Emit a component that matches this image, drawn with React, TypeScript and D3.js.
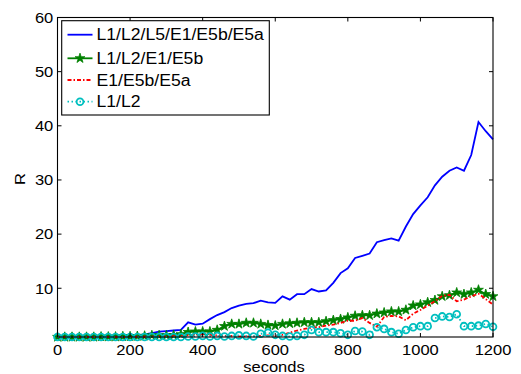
import React from "react";
import * as d3 from "d3";

// time axis (seconds) and the four series
const seconds = [
  0, 20, 40, 60, 80, 100, 120, 140, 160, 180, 200, 220, 240, 260, 280, 300, 320, 340,
  360, 380, 400, 420, 440, 460, 480, 500, 520, 540, 560, 580, 600, 620, 640, 660, 680,
  700, 720, 740, 760, 780, 800, 820, 840, 860, 880, 900, 920, 940, 960, 980, 1000,
  1020, 1040, 1060, 1080, 1100, 1120, 1140, 1160, 1180, 1200,
];

const allSignals = [
  1.0, 1.0, 1.0, 1.0, 1.0, 1.05, 1.05, 1.1, 1.1, 1.15, 1.2, 1.3, 1.5, 1.7, 2.0, 2.1, 2.2, 2.3,
  3.7, 3.3, 3.45, 4.3, 5.05, 5.6, 6.35, 6.8, 7.1, 7.25, 7.7, 7.4, 7.3, 8.5, 7.9, 8.9, 8.9,
  9.85, 9.4, 9.6, 11.0, 12.8, 13.7, 15.6, 16.0, 16.4, 18.5, 18.9, 19.2, 18.8, 21.4, 23.7, 25.3,
  26.8, 29.0, 30.6, 31.7, 32.3, 31.7, 34.6, 40.7, 39.0, 37.5,
];

const fourSignals = [
  1.0, 1.0, 1.0, 1.0, 1.0, 1.0, 1.05, 1.05, 1.05, 1.1, 1.1, 1.15, 1.2, 1.3, 1.3, 1.3, 1.35, 1.5,
  1.9, 2.0, 2.0, 2.0, 2.3, 3.0, 3.4, 3.4, 3.6, 3.6, 3.4, 3.2, 3.1, 3.4, 3.5, 3.6, 3.7,
  3.7, 3.7, 3.9, 4.1, 4.3, 4.6, 4.9, 5.0, 5.0, 5.3, 5.5, 5.7, 5.7, 6.0, 6.8, 7.0,
  7.4, 7.8, 8.5, 8.7, 9.2, 8.9, 9.2, 9.7, 8.9, 8.5,
];

const galileoOnly = [
  1.0, 1.0, 1.0, 1.0, 1.0, 1.0, 1.0, 1.0, 1.0, 1.0, 1.0, 1.05, 1.05, 1.1, 1.1, 1.1, 1.15, 1.2,
  1.3, 1.4, 1.5, 1.4, 1.3, 1.2, 1.2, 1.1, 1.1, 1.1, 1.2, 1.3, 1.2, 1.4, 1.8, 2.2, 2.5,
  2.7, 2.8, 3.1, 3.3, 3.6, 4.0, 4.0, 4.5, 3.6, 2.9, 4.7, 4.9, 4.8, 4.1, 5.3, 6.0,
  6.8, 7.6, 8.6, 8.8, 7.6, 7.9, 8.5, 9.0, 8.0, 7.0,
];

const gpsOnly = [
  1.0, 1.0, 1.0, 1.0, 1.0, 1.0, 1.0, 1.0, 1.0, 1.0, 1.0, 1.0, 1.0, 1.0, 1.0, 1.0, 1.0, 1.0,
  1.1, 1.1, 1.2, 1.1, 1.2, 1.1, 1.2, 1.3, 1.2, 1.1, 1.6, 1.8, 1.4, 1.2, 1.1, 1.2, 1.4,
  2.3, 1.9, 1.9, 1.9, 1.7, 1.4, 2.1, 2.0, 1.4, 2.8, 2.5, 1.9, 1.6, 2.3, 2.8, 3.0,
  3.0, 4.5, 4.8, 4.7, 5.2, 3.0, 3.0, 3.1, 3.4, 2.9,
];

const seriesNames = ["L1/L2/L5/E1/E5b/E5a", "L1/L2/E1/E5b", "E1/E5b/E5a", "L1/L2"];
const xTicks = [0, 200, 400, 600, 800, 1000, 1200];
const yTicks = [10, 20, 30, 40, 50, 60];

const W = 521;
const H = 374;
const plot = { left: 57.5, right: 493, top: 17.5, bottom: 337 };
const font = "'Liberation Sans', Arial, Helvetica, sans-serif";

type Style = {
  color: string;
  dash?: string;
  marker?: "star" | "circle";
};

const styles: Style[] = [
  { color: "#0000ff" },
  { color: "#008000", marker: "star" },
  { color: "#ff0000", dash: "4,2,1.5,2" },
  { color: "#00bfbf", dash: "1.5,2.5", marker: "circle" },
];

const Marker = ({ kind, x, y, color }: { kind?: string; x: number; y: number; color: string }) => {
  if (kind === "star") {
    const p = d3.symbol().type(d3.symbolStar).size(30)();
    return (
      <path d={p || ""} transform={`translate(${x},${y})`} fill={color} stroke={color} strokeWidth={0.8} />
    );
  }
  if (kind === "circle") {
    return <circle cx={x} cy={y} r={3.4} fill="none" stroke={color} strokeWidth={1.8} />;
  }
  return null;
};

const App = () => {
  const x = d3.scaleLinear().domain([0, 1200]).range([plot.left, plot.right]);
  const y = d3.scaleLinear().domain([1, 60]).range([plot.bottom, plot.top]);

  const data = [allSignals, fourSignals, galileoOnly, gpsOnly];

  const line = d3
    .line<number>()
    .x((_, i) => x(seconds[i]))
    .y((d) => y(d));

  const tickLen = 4;
  const legend = { x: 61.7, y: 20.7, w: 207.6, h: 94.3 };
  const rowY = [34.7, 58.3, 80, 101.7];

  return (
    <svg
      width={W}
      height={H}
      style={{ position: "absolute", left: 0, top: 0, background: "#fff" }}
      fontFamily={font}
    >
      <rect x={0} y={0} width={W} height={H} fill="#fff" />

      {/* series */}
      <g>
        {data.map((vals, si) => (
          <g key={si}>
            <path
              d={line(vals) || ""}
              fill="none"
              stroke={styles[si].color}
              strokeWidth={1.8}
              strokeDasharray={styles[si].dash}
            />
            {styles[si].marker &&
              vals.map((v, i) => (
                <Marker key={i} kind={styles[si].marker} x={x(seconds[i])} y={y(v)} color={styles[si].color} />
              ))}
          </g>
        ))}
      </g>

      {/* axes box */}
      <rect
        x={plot.left}
        y={plot.top}
        width={plot.right - plot.left}
        height={plot.bottom - plot.top}
        fill="none"
        stroke="#000"
        strokeWidth={1.1}
      />

      {xTicks.map((t) => (
        <g key={t}>
          <line x1={x(t)} x2={x(t)} y1={plot.bottom} y2={plot.bottom - tickLen} stroke="#000" />
          <line x1={x(t)} x2={x(t)} y1={plot.top} y2={plot.top + tickLen} stroke="#000" />
          <text transform={`translate(${x(t)},355) scale(1.1,1)`} textAnchor="middle" fontSize={15} fill="#000">
            {t}
          </text>
        </g>
      ))}

      {yTicks.map((t) => (
        <g key={t}>
          <line x1={plot.left} x2={plot.left + tickLen} y1={y(t)} y2={y(t)} stroke="#000" />
          <line x1={plot.right} x2={plot.right - tickLen} y1={y(t)} y2={y(t)} stroke="#000" />
          <text transform={`translate(53.3,${y(t) + 5.3}) scale(1.1,1)`} textAnchor="end" fontSize={15} fill="#000">
            {t}
          </text>
        </g>
      ))}

      <text transform="translate(274,372) scale(1.1,1)" textAnchor="middle" fontSize={15} fill="#000">
        seconds
      </text>
      <text transform="translate(25,179) rotate(-90) scale(1.1,1)" textAnchor="middle" fontSize={15} fill="#000">
        R
      </text>

      {/* legend */}
      <rect x={legend.x} y={legend.y} width={legend.w} height={legend.h} fill="#fff" stroke="#000" strokeWidth={1.1} />
      {seriesNames.map((name, i) => (
        <g key={name}>
          <line
            x1={67.5}
            x2={92.5}
            y1={rowY[i]}
            y2={rowY[i]}
            stroke={styles[i].color}
            strokeWidth={1.8}
            strokeDasharray={styles[i].dash}
          />
          <Marker kind={styles[i].marker} x={80} y={rowY[i]} color={styles[i].color} />
          <text transform={`translate(96.5,${rowY[i] + 5.6}) scale(1.13,1)`} fontSize={15.6} fill="#000">
            {name}
          </text>
        </g>
      ))}
    </svg>
  );
};

export default App;
